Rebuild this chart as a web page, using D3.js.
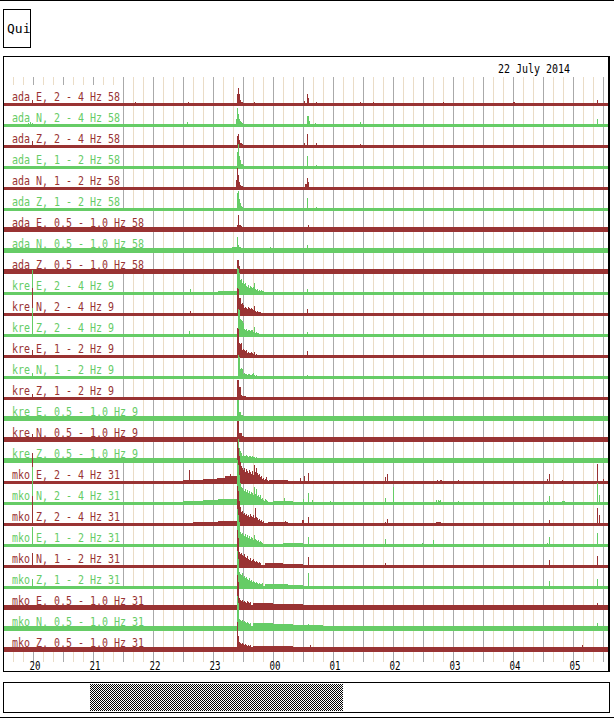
<!DOCTYPE html>
<html><head><meta charset="utf-8">
<script src="https://cdn.jsdelivr.net/npm/d3@7"></script>
<style>
html,body{margin:0;padding:0;background:#fff;}
svg{display:block;}
text{font-family:"DejaVu Sans Mono","Liberation Mono",monospace;}
</style></head><body>
<svg id="c" width="614" height="719"></svg>
<script>
// ---------- DATA ----------
const titleText = "22 July 2014";
const stations = ["ada", "kre", "mko"];
const stationGain = ["58", "9", "31"];
const components = ["E", "N", "Z"];
const bands = ["2 - 4 Hz", "1 - 2 Hz", "0,5 - 1,0 Hz"];
const startTime = "2014-07-21T19:30:00Z";
const endTime = "2014-07-22T05:36:00Z";
// time in minutes after 19:30 UTC; levels: [minute, amplitude] change points
const rowLevels = [
  [[0,3]],
  [[0,3]],
  [[0,3]],
  [[0,3]],
  [[0,3]],
  [[0,3]],
  [[0,5]],
  [[0,5]],
  [[0,5]],
  [[0,3],[215,4],[234,3]],
  [[0,3]],
  [[0,3]],
  [[0,3]],
  [[0,3]],
  [[0,3]],
  [[0,5]],
  [[0,5]],
  [[0,5]],
  [[0,3],[180,4],[200,5],[214,6],[222,8],[234,3],[266,4],[285,3]],
  [[0,3],[180,4],[200,5],[215,6],[234,3],[270,4],[290,3]],
  [[0,3],[190,4],[215,5],[234,3],[265,4],[285,3]],
  [[0,3],[280,4],[300,3]],
  [[0,3],[262,5],[280,4],[300,3]],
  [[0,3],[262,5],[285,4],[300,3]],
  [[0,5],[250,7],[270,6],[300,5]],
  [[0,5],[250,8],[270,7],[290,6],[320,5]],
  [[0,5],[250,6],[290,5]]
];
// spikes: [start minute, amplitude, amplitude of following minutes ...]
const rowSpikes = [
  [[29,6],[132,4],[185,4],[234,12,18,12,6,4,4],[251,4],[301,5],[304,12,8],[313,4],[357,4],[370,4],[440,4],[510,4,4],[594,6]],
  [[25,4,0,5,0,4],[184,5],[233,8,19,13,8,6,5,4],[304,11,11,6],[312,4],[357,5],[594,8]],
  [[29,7],[234,12,14,8,5,5,4],[301,5],[304,14],[313,5],[357,4]],
  [[234,17,25,13,9,5,5,4],[304,13],[313,4]],
  [[233,10,22,15,8,5,4,4],[302,6,6,12,8]],
  [[234,18,20,12,8,5,4],[304,13],[313,4]],
  [[234,7,17,7,7,6],[305,7]],
  [[229,6,6,6,6,6,16,8,6,6],[267,6],[304,8]],
  [[234,14,14,8]],
  [[29,25],[187,6],[234,27,26,22,15,16,12,14,11,12,9,8,10,7,9,8,7,8,12,6,5,6,4,5,4,5,4,4],[304,6]],
  [[29,28],[187,5],[234,28,27,18,18,12,13,11,8,9,8,7,9,8,7,8,7,6,10,5,4,5,4,4,4],[304,7]],
  [[29,29],[186,6],[235,28,27,18,17,16,14,8,7,8,6,7,7,6,7,7,5,10,4,5,4,4],[304,5]],
  [[29,8],[234,30,29,15,14,15,8,9,8,7,8,5,6,5,5,6,5,4,6,3,4],[304,7]],
  [[29,6],[235,24,22,10,11,10,5,6,5,5,4,5,5,4,4,5,6,4,3,4],[304,4]],
  [[29,6],[234,20,20,13,13,5,4,4,4,4]],
  [[234,21,21,9,9,6,6]],
  [[29,8],[234,21,21,9,9,9,6,6]],
  [[235,24,15,12,10,7,8,7,7,8,7,6,7,7,6,7,6,6,5,6]],
  [[29,31],[186,14],[227,10],[234,42,36,28,22,18,16,14,16,12,15,13,11,14,12,10,13,9,19,12,16,11,9,10,7,8,5,6,4,5,7,4],[297,6],[301,8],[305,11],[382,7],[384,10],[434,4,0,0,4,4],[455,4],[522,3],[544,5,0,10],[559,4],[594,20],[600,5]],
  [[29,38],[234,45,40,30,22,18,17,15,14,16,13,15,12,14,11,13,12,10,18,11,16,9,10,8,10,6,7,5,4,6,5,4],[281,7],[300,6],[305,12],[309,5],[327,4],[382,7],[390,18],[433,5,0,5,4,5],[455,4],[544,4,0,9],[559,4,4,4],[594,22,0,10]],
  [[29,30],[234,40,35,25,19,14,15,12,13,11,12,10,11,9,12,10,9,11,8,18,9,8,6,7,5,6,4,5],[282,5],[299,6,6],[305,9],[382,4,0,7],[433,4,4,4,4,4],[546,6],[567,3],[594,18,0,11]],
  [[29,20],[234,38,32,25,15,13,14,12,11,13,10,12,9,11,8,10,9,7,12,8,7,6,7,5,6,5,4],[305,10],[382,8],[419,4],[430,7],[544,4,0,10],[594,14]],
  [[29,15],[234,38,30,16,14,15,13,12,14,11,10,12,9,8,10,7,8,9,7,6,7,6,5,6,5],[305,11],[382,5],[546,8],[594,12]],
  [[29,10],[234,38,30,17,15,14,16,12,13,11,12,10,9,11,8,9,7,8,7,6,7,6,5,6,5,5,6],[305,16],[546,8],[594,10]],
  [[234,35,28,12,10,9,10,8,9,8,7,9,8,7,8],[594,7]],
  [[234,35,28,12,11,10,11,9,10,9,8,9,8,7,8],[305,7],[594,8]],
  [[234,30,16,10,9,8,9,8,7,8,7,6,7,6,7],[307,7],[579,7]]
];

// ---------- LAYOUT ----------
const svg = d3.select("#c");
const colors = ["#993333", "#66cc66"];
const t0 = new Date(startTime), t1 = new Date(endTime);
const N = Math.round((t1 - t0) / 60000);
const x = d3.scaleUtc().domain([t0, t1]).range([3, 609]);
const at = m => new Date(t0.getTime() + m * 60000);

const labels = [];
stations.forEach((s, si) => bands.forEach(b => components.forEach(c => labels.push(`${s} ${c}, ${b} ${stationGain[si]}`))));
const rowIdx = d3.range(labels.length);
const rowBottom = d3.scalePoint().domain(rowIdx).range([106, 652]);
const rowH = 21;

// outer lines
svg.append("line").attr("x1",0).attr("x2",614).attr("y1",0.5).attr("y2",0.5).attr("stroke","#000");
svg.append("line").attr("x1",0).attr("x2",614).attr("y1",717.5).attr("y2",717.5).attr("stroke","#000");

// Quit button
svg.append("clipPath").attr("id","qclip").append("rect").attr("x",4).attr("y",10).attr("width",26).attr("height",37);
svg.append("rect").attr("x",3.5).attr("y",9.5).attr("width",27).attr("height",38).attr("fill","#fff").attr("stroke","#000");
svg.append("text").attr("x",7).attr("y",33).attr("font-size",13).attr("clip-path","url(#qclip)").text("Qui");

// gridlines
const grid = svg.append("g").attr("shape-rendering","crispEdges");
d3.utcMinute.every(10).range(t0, t1).forEach(d => {
  const px = Math.round(x(d)) + 0.5;
  if (px < 5) return;
  grid.append("line").attr("x1",px).attr("x2",px).attr("y1",77).attr("y2",662)
    .attr("stroke", d.getUTCMinutes() % 30 === 0 ? "#aaaaaa" : "#eadcc6");
});

// labels
const CW = 6;
const lab = svg.append("g");
rowIdx.forEach(i => {
  const b = rowBottom(i), len = labels[i].length * CW;
  lab.append("rect").attr("x",4).attr("y",b - rowH).attr("width",8 + len + 2).attr("height",rowH).attr("fill","#fff");
  lab.append("text").attr("x",12).attr("y",b - 5).attr("font-size",13)
    .attr("textLength",len).attr("lengthAdjust","spacingAndGlyphs")
    .attr("fill",colors[i % 2]).text(labels[i]);
});

// traces
function series(levels, spikes) {
  const v = new Array(N).fill(0);
  levels.forEach(([t, l], i) => {
    const e = i + 1 < levels.length ? levels[i + 1][0] : N;
    for (let k = t; k < e; k++) v[k] = l;
  });
  spikes.forEach(([t, ...hs]) => hs.forEach((h, j) => { const k = t + j; if (k < N) v[k] = Math.max(v[k], h); }));
  return v;
}
const tr = svg.append("g").attr("shape-rendering","crispEdges");
rowIdx.forEach(i => {
  const b = rowBottom(i);
  const y = d3.scaleLinear().domain([0, rowH]).range([b, b - rowH]);
  const v = series(rowLevels[i], rowSpikes[i]);
  const pts = v.map((val, t) => ({t, val}));
  pts.push({t: N, val: v[N - 1]});
  const area = d3.area().curve(d3.curveStepAfter)
    .x(d => x(at(d.t))).y0(b).y1(d => y(d.val));
  tr.append("path").attr("d", area(pts)).attr("fill", colors[i % 2]);
});

// frame
svg.append("rect").attr("x",3.5).attr("y",56.5).attr("width",605).attr("height",615)
  .attr("fill","none").attr("stroke","#000").attr("shape-rendering","crispEdges");
svg.append("line").attr("x1",609.5).attr("x2",609.5).attr("y1",56).attr("y2",672).attr("stroke","#000");

// title
svg.append("text").attr("x",570).attr("y",72.5).attr("text-anchor","end").attr("font-size",13)
  .attr("textLength",titleText.length * CW).attr("lengthAdjust","spacingAndGlyphs").text(titleText);

// time axis labels
const axis = d3.axisBottom(x).ticks(d3.utcHour.every(1)).tickFormat(d3.utcFormat("%H")).tickSize(0);
const ax = svg.append("g").attr("transform","translate(0,661)").call(axis);
ax.select(".domain").remove();
ax.selectAll("text").attr("y",9).attr("dy",0).attr("dx",1.5)
  .attr("font-size",13).attr("font-family","DejaVu Sans Mono").attr("fill","#000")
  .attr("textLength",11).attr("lengthAdjust","spacingAndGlyphs");

// scrollbar
const defs = svg.append("defs");
const pat = defs.append("pattern").attr("id","chk").attr("patternUnits","userSpaceOnUse").attr("width",2).attr("height",2);
pat.append("rect").attr("width",2).attr("height",2).attr("fill","#fff");
pat.append("rect").attr("x",0).attr("y",0).attr("width",1).attr("height",1).attr("fill","#000");
pat.append("rect").attr("x",1).attr("y",1).attr("width",1).attr("height",1).attr("fill","#000");
svg.append("rect").attr("x",3.5).attr("y",682.5).attr("width",606).attr("height",30)
  .attr("fill","#fff").attr("stroke","#000").attr("shape-rendering","crispEdges");
svg.append("rect").attr("x",90).attr("y",684).attr("width",253).attr("height",27).attr("fill","url(#chk)").attr("shape-rendering","crispEdges");
</script></body></html>
